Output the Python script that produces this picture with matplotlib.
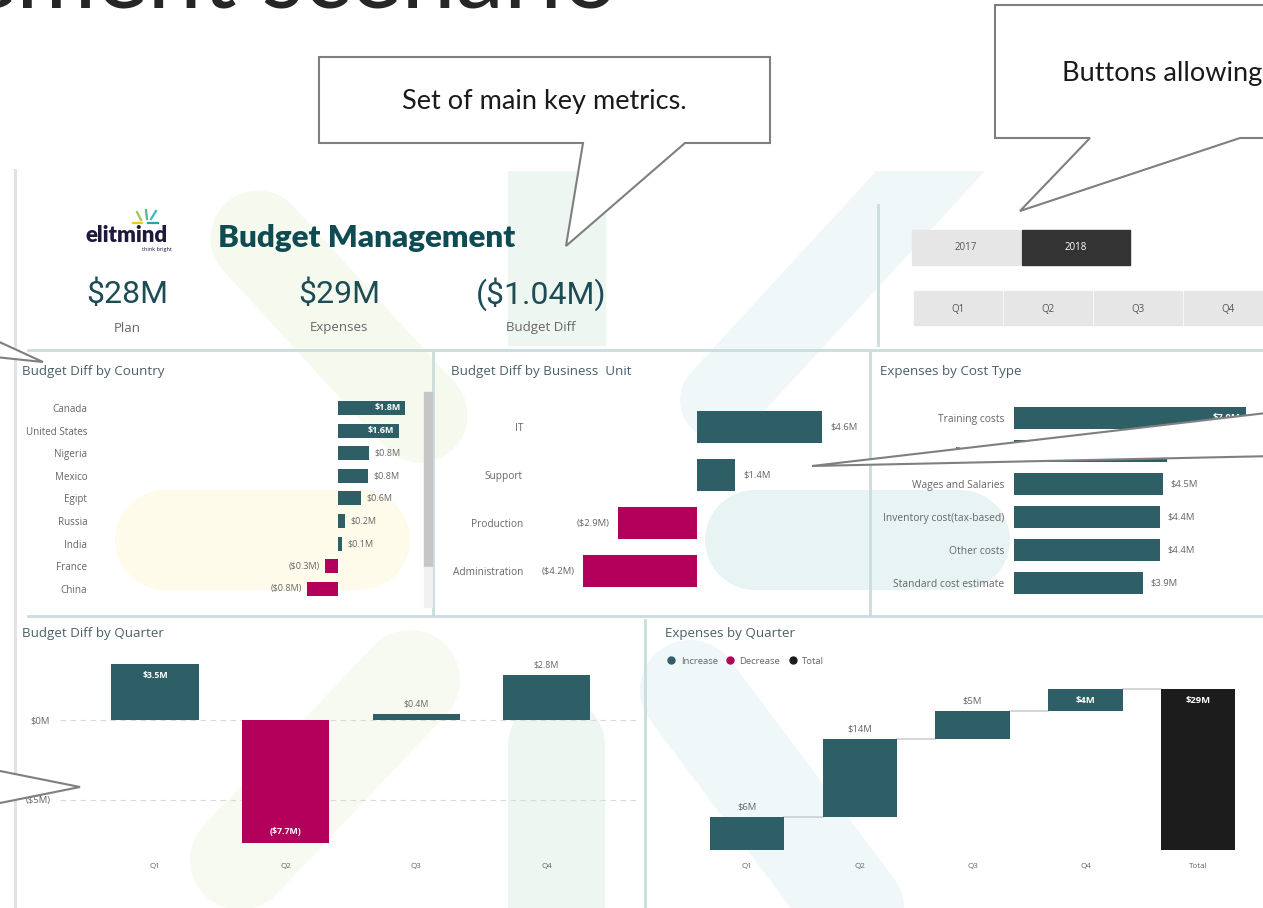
import matplotlib.pyplot as plt
from matplotlib.patches import Rectangle, Polygon
from matplotlib.lines import Line2D

plt.rcParams['font.family'] = ['Open Sans', 'DejaVu Sans']

# data
kpi_values = ["$28M", "$29M", "($1.04M)"]
kpi_labels = ["Plan", "Expenses", "Budget Diff"]

years = ["2017", "2018"]
selected_year = "2018"
quarters = ["Q1", "Q2", "Q3", "Q4"]

countries = ["Canada", "United States", "Nigeria", "Mexico", "Egipt", "Russia", "India", "France", "China"]
country_diff = [1.82, 1.64, 0.84, 0.82, 0.63, 0.20, 0.12, -0.34, -0.83]

units = ["IT", "Support", "Production", "Administration"]
unit_diff = [4.6, 1.4, -2.9, -4.2]

cost_types = ["Training costs", "Purchases", "Wages and Salaries", "Inventory cost(tax-based)",
              "Other costs", "Standard cost estimate"]
cost_values = [7.0, 4.6, 4.5, 4.4, 4.4, 3.9]

quarter_diff = [3.5, -7.7, 0.4, 2.8]
quarter_expenses = [6, 14, 5, 4]

TEAL = '#2F5F66'
MAGENTA = '#B3005A'
BLACK = '#1C1C1C'
GRAY_TXT = '#666666'
TITLE_TXT = '#4A6068'
SEP = '#C9DDDD'
CALLOUT = ['Lato', 'DejaVu Sans']

W, H = 1263, 908
fig = plt.figure(figsize=(W / 100, H / 100), dpi=100)


def px_axes(x0, y0, x1, y1):
    ax = fig.add_axes([x0 / W, 1 - y1 / H, (x1 - x0) / W, (y1 - y0) / H], zorder=2)
    ax.set_facecolor('none')
    for s in ax.spines.values():
        s.set_visible(False)
    ax.tick_params(length=0)
    return ax


def fmt(v):
    return f'${v:.1f}M' if v >= 0 else f'(${-v:.1f}M)'


# background layer in pixel coordinates
bg = fig.add_axes([0, 0, 1, 1], zorder=0)
bg.set_xlim(0, W)
bg.set_ylim(H, 0)
bg.axis('off')


def pill(x0, y0, x1, y1, width, color):
    bg.plot([x0, x1], [y0, y1], color=color, lw=width * 0.72, solid_capstyle='round', zorder=0)


pill(258, 238, 420, 415, 95, '#F6F9EE')
pill(950, 150, 720, 400, 80, '#EFF7F9')
pill(755, 540, 960, 540, 100, '#E8F3F3')
pill(165, 540, 360, 540, 100, '#FFFBEA')
pill(690, 690, 870, 930, 100, '#EFF7F9')
pill(410, 680, 240, 860, 100, '#F7FAF0')
pill(556, 745, 556, 960, 97, '#EEF6F1')
bg.add_patch(Rectangle((508, 170), 97, 175, color='#EEF6F1', zorder=0))
bg.add_patch(Rectangle((0, 0), W, 170, color='white', zorder=0.5))

# page title (cut at top, as on the slide)
bg.text(618, 8, 'Budget management scenario', fontsize=70, ha='right', va='baseline',
        color='#262626', family=CALLOUT, zorder=3)

# separators
bg.plot([15, 15], [170, 908], color='#E2E2E2', lw=2.2, zorder=1)
for y in (350, 616):
    bg.plot([28, W], [y, y], color=SEP, lw=2, zorder=1)
bg.plot([878, 878], [205, 345], color=SEP, lw=2, zorder=1)
bg.plot([433, 433], [352, 614], color=SEP, lw=2, zorder=1)
bg.plot([870, 870], [352, 614], color=SEP, lw=2, zorder=1)
bg.plot([645, 645], [620, 908], color=SEP, lw=2, zorder=1)

# logo
bg.text(86, 236, 'elitmind', fontsize=16, fontweight='heavy', color='#1E1A3C', va='center',
        family=CALLOUT, zorder=3)
bg.text(172, 250, 'think bright', fontsize=4, color='#1E1A3C', ha='right', va='center', zorder=3)
bg.plot([137, 141], [212, 220], color='#9BC95A', lw=1.6, zorder=3)
bg.plot([146, 147], [210, 219], color='#5CB88A', lw=1.6, zorder=3)
bg.plot([156, 151], [211, 219], color='#3DB7C4', lw=1.6, zorder=3)
bg.plot([133, 142], [223, 223], color='#F2C811', lw=1.6, zorder=3)
bg.plot([148, 158], [223, 223], color='#2E9EA8', lw=1.6, zorder=3)

bg.text(218, 238, 'Budget Management', fontsize=22.5, fontweight='heavy', color='#0E4B53',
        va='center', family=CALLOUT, zorder=3)

for x, val, lab in zip([127, 339, 541], kpi_values, kpi_labels):
    bg.text(x, 294, val, fontsize=23, color='#1D4C55', ha='center', va='center',
            family=['Roboto', 'DejaVu Sans'], zorder=3)
    bg.text(x, 328, lab, fontsize=9.5, color=GRAY_TXT, ha='center', va='center', zorder=3)

# slicer buttons
for i, yr in enumerate(years):
    sel = yr == selected_year
    bg.add_patch(Rectangle((912 + 110 * i, 230), 108, 35, color='#333333' if sel else '#E6E6E6', zorder=1))
    bg.text(966 + 110 * i, 248, yr, fontsize=7, color='white' if sel else '#555555',
            ha='center', va='center', zorder=3)
for i, q in enumerate(quarters):
    bg.add_patch(Rectangle((914 + 90 * i, 291), 88, 34, color='#E6E6E6', zorder=1))
    bg.text(958 + 90 * i, 309, q, fontsize=7, color='#555555', ha='center', va='center', zorder=3)

# panel titles
for x, y, t in [(22, 371, 'Budget Diff by Country'), (451, 371, 'Budget Diff by Business  Unit'),
                (880, 372, 'Expenses by Cost Type'), (22, 634, 'Budget Diff by Quarter'),
                (665, 634, 'Expenses by Quarter')]:
    bg.text(x, y, t, fontsize=9.6, color=TITLE_TXT, va='center', zorder=3)

# scroll bar
bg.add_patch(Rectangle((424, 392), 8, 175, color='#C6C6C6', zorder=1))
bg.add_patch(Rectangle((424, 567), 8, 40, color='#F0F0F0', zorder=1))

# Budget Diff by Country
ax1 = px_axes(95, 398, 420, 600)
pos = range(len(countries))
ax1.barh(pos, country_diff, height=0.62, color=[TEAL if v >= 0 else MAGENTA for v in country_diff])
ax1.set_xlim(-6.57, 2.22)
ax1.set_ylim(8.496, -0.442)
ax1.set_xticks([])
ax1.set_yticks(list(pos), countries, fontsize=7.1, color=GRAY_TXT)
ax1.tick_params(axis='y', pad=5.5)
for i, v in enumerate(country_diff):
    if v >= 1.5:
        ax1.annotate(fmt(v), (v, i), xytext=(-3, 0), textcoords='offset points', ha='right',
                     va='center', color='white', fontsize=6.5, fontweight='bold')
    elif v >= 0:
        ax1.annotate(fmt(v), (v, i), xytext=(4, 0), textcoords='offset points', ha='left',
                     va='center', color=GRAY_TXT, fontsize=6.5)
    else:
        ax1.annotate(fmt(v), (v, i), xytext=(-4, 0), textcoords='offset points', ha='right',
                     va='center', color=GRAY_TXT, fontsize=6.5)

# Budget Diff by Business Unit
ax2 = px_axes(530, 400, 860, 600)
pos = range(len(units))
ax2.barh(pos, unit_diff, height=0.66, color=[TEAL if v >= 0 else MAGENTA for v in unit_diff])
ax2.set_xlim(-6.14, 5.99)
ax2.set_ylim(3.604, -0.5625)
ax2.set_xticks([])
ax2.set_yticks(list(pos), units, fontsize=7.3, color=GRAY_TXT)
ax2.tick_params(axis='y', pad=5)
for i, v in enumerate(unit_diff):
    ax2.annotate(fmt(v), (v, i), xytext=(6 if v >= 0 else -6, 0), textcoords='offset points',
                 ha='left' if v >= 0 else 'right', va='center', color=GRAY_TXT, fontsize=6.8)

# Expenses by Cost Type
ax3 = px_axes(1014, 400, 1263, 600)
pos = range(len(cost_types))
ax3.barh(pos, cost_values, height=0.64, color=TEAL)
ax3.set_xlim(0, 7.5)
ax3.set_ylim(5.515, -0.545)
ax3.set_xticks([])
ax3.set_yticks(list(pos), cost_types, fontsize=7.4, color=GRAY_TXT)
ax3.tick_params(axis='y', pad=7)
for i, v in enumerate(cost_values):
    if v >= 6:
        ax3.annotate(fmt(v), (v, i), xytext=(-4, 0), textcoords='offset points', ha='right',
                     va='center', color='white', fontsize=6.8, fontweight='bold')
    else:
        ax3.annotate(fmt(v), (v, i), xytext=(5, 0), textcoords='offset points', ha='left',
                     va='center', color=GRAY_TXT, fontsize=6.8)

# Budget Diff by Quarter
ax4 = px_axes(60, 650, 640, 855)
pos = range(len(quarters))
ax4.bar(pos, quarter_diff, width=0.667, color=[TEAL if v >= 0 else MAGENTA for v in quarter_diff], zorder=2)
ax4.set_xlim(-0.728, 3.716)
ax4.set_ylim(-8.4375, 4.375)
for g in (0, -5):
    ax4.axhline(g, color='#D9D9D9', lw=0.8, ls=(0, (5, 4)), zorder=0)
ax4.set_yticks([0, -5], ['$0M', '($5M)'], fontsize=6.8, color=GRAY_TXT)
ax4.tick_params(axis='y', pad=7)
ax4.set_xticks(list(pos), quarters, fontsize=5.8, color=GRAY_TXT)
ax4.tick_params(axis='x', pad=6)
for i, v in enumerate(quarter_diff):
    if abs(v) >= 3:
        ax4.annotate(fmt(v), (i, v), xytext=(0, -5 if v > 0 else 5), textcoords='offset points',
                     ha='center', va='top' if v > 0 else 'bottom', color='white', fontsize=6.3,
                     fontweight='bold')
    else:
        ax4.annotate(fmt(v), (i, v), xytext=(0, 4), textcoords='offset points', ha='center',
                     va='bottom', color=GRAY_TXT, fontsize=6.3)

# Expenses by Quarter (waterfall)
ax5 = px_axes(660, 680, 1263, 855)
bottoms = []
cum = 0
for v in quarter_expenses:
    bottoms.append(cum)
    cum += v
cats = quarters + ['Total']
vals = quarter_expenses + [cum]
bots = bottoms + [0]
ax5.bar(range(len(cats)), vals, bottom=bots, width=0.66, color=[TEAL] * len(quarters) + [BLACK], zorder=2)
for i in range(len(quarters)):
    level = bots[i] + vals[i]
    ax5.plot([i + 0.33, i + 0.67], [level, level], color='#CFCFCF', lw=1.2, zorder=1)
ax5.set_xlim(-0.771, 4.574)
ax5.set_ylim(-0.9, 30.6)
ax5.set_yticks([])
ax5.set_xticks(range(len(cats)), cats, fontsize=5.8, color=GRAY_TXT)
ax5.tick_params(axis='x', pad=6)
for i, v in enumerate(vals):
    top = bots[i] + v
    if top > 26:
        ax5.annotate(f'${v}M', (i, top), xytext=(0, -5), textcoords='offset points', ha='center',
                     va='top', color='white', fontsize=6.8, fontweight='bold')
    else:
        ax5.annotate(f'${v}M', (i, top), xytext=(0, 4), textcoords='offset points', ha='center',
                     va='bottom', color=GRAY_TXT, fontsize=6.8)

handles = [Line2D([], [], marker='o', ls='', color=c, markersize=5) for c in (TEAL, MAGENTA, BLACK)]
fig.legend(handles, ['Increase', 'Decrease', 'Total'], loc='center left',
           bbox_to_anchor=(662 / W, 1 - 661 / H), ncol=3, frameon=False, fontsize=6.8,
           handletextpad=0.0, columnspacing=0.3, borderaxespad=0, borderpad=0, labelcolor=GRAY_TXT)

# callouts on top
ov = fig.add_axes([0, 0, 1, 1], zorder=5)
ov.set_xlim(0, W)
ov.set_ylim(H, 0)
ov.axis('off')
ov.patch.set_alpha(0)
callouts = [
    [(319, 57), (770, 57), (770, 143), (685, 143), (566, 246), (583, 143), (319, 143)],
    [(995, 5), (1275, 5), (1275, 138), (1240, 138), (1020, 211), (1090, 138), (995, 138)],
    [(1275, 412), (812, 466), (1275, 456)],
    [(-5, 340), (43, 362), (-5, 357)],
    [(-5, 770), (80, 787), (-5, 804)],
]
for pts in callouts:
    ov.add_patch(Polygon(pts, closed=True, fc='white', ec='#7F7F7F', lw=1.5))
ov.text(544, 101, 'Set of main key metrics.', fontsize=19.5, ha='center', va='center',
        family=CALLOUT, color='#1A1A1A')
ov.text(1062, 73, 'Buttons allowing', fontsize=19.5, ha='left', va='center',
        family=CALLOUT, color='#1A1A1A')

fig.savefig('out.png', dpi=100)
